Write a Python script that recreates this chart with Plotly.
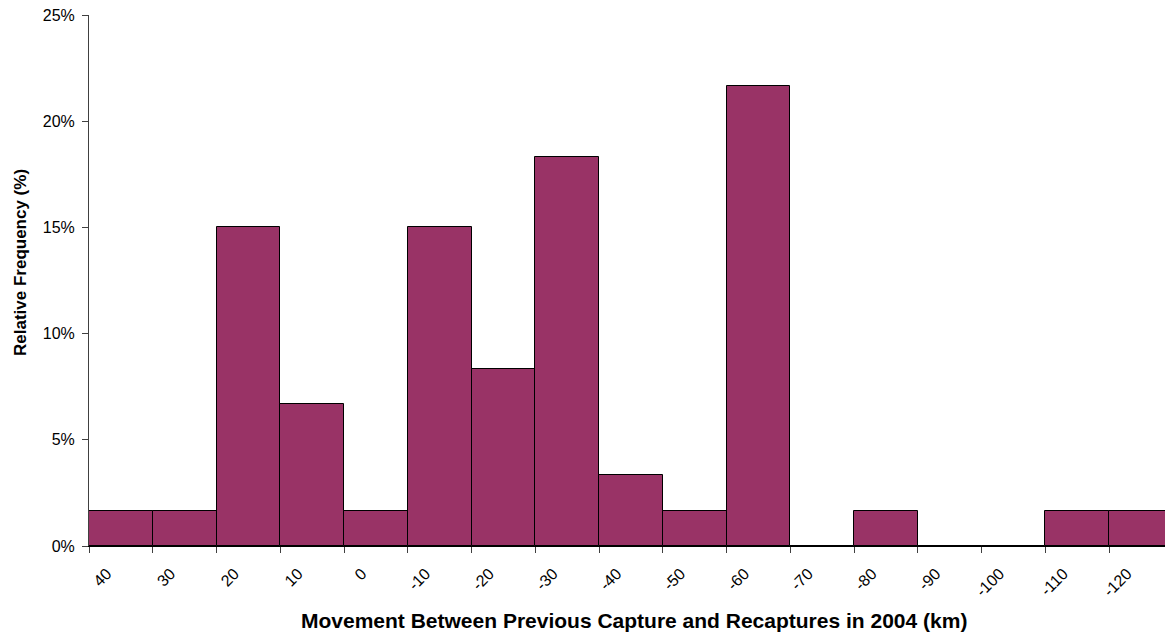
import plotly.graph_objects as go

categories = ["40", "30", "20", "10", "0", "-10", "-20", "-30", "-40", "-50",
              "-60", "-70", "-80", "-90", "-100", "-110", "-120"]
frequency_pct = [1.67, 1.67, 15.0, 6.67, 1.67, 15.0, 8.33, 18.33, 3.33, 1.67,
                 21.67, 0, 1.67, 0, 0, 1.67, 1.67]
y_ticks = [0, 5, 10, 15, 20, 25]
y_tick_text = ["0%", "5%", "10%", "15%", "20%", "25%"]

fig = go.Figure(go.Bar(
    x=categories, y=frequency_pct,
    marker=dict(color="#993366", line=dict(color="black", width=1)),
))

# page body has an 8px default margin; compensate so the plot area sits at the same place
W, H = 1165, 627
fig.update_layout(
    width=W, height=H,
    margin=dict(l=81, r=0, t=7, b=89),
    paper_bgcolor="white", plot_bgcolor="white",
    bargap=0, showlegend=False,
    font=dict(family="Arial, Liberation Sans, sans-serif", size=16, color="black"),
    xaxis=dict(type="category", showgrid=False, zeroline=False,
               showline=True, linecolor="black", linewidth=1,
               ticks="outside", tickson="boundaries", ticklen=6, tickcolor="#404040",
               tickangle=-45, tickfont=dict(size=16),
               ticklabelshift=-14, ticklabelstandoff=11,
               ticklabeloverflow="allow",
               range=[-0.5, 16.5]),
    yaxis=dict(range=[0, 25], tickmode="array", tickvals=y_ticks, ticktext=y_tick_text,
               showgrid=False, zeroline=False,
               showline=True, linecolor="#404040", linewidth=1,
               ticks="outside", ticklen=6, tickcolor="#404040",
               tickfont=dict(size=16), ticklabelstandoff=4,
               ticklabeloverflow="allow"),
    annotations=[
        dict(text="<b>Relative Frequency (%)</b>", xref="paper", yref="paper",
             x=0, xshift=-69, y=(546 - 263) / 531, textangle=-90,
             showarrow=False, xanchor="center", yanchor="middle",
             font=dict(size=17)),
        dict(text="<b>Movement Between Previous Capture and Recaptures in 2004 (km)</b>",
             xref="paper", yref="paper", x=0.5, xshift=3, y=(546 - 620) / 531,
             showarrow=False, xanchor="center", yanchor="middle",
             font=dict(size=21)),
    ],
)

fig.write_html("out.html")
